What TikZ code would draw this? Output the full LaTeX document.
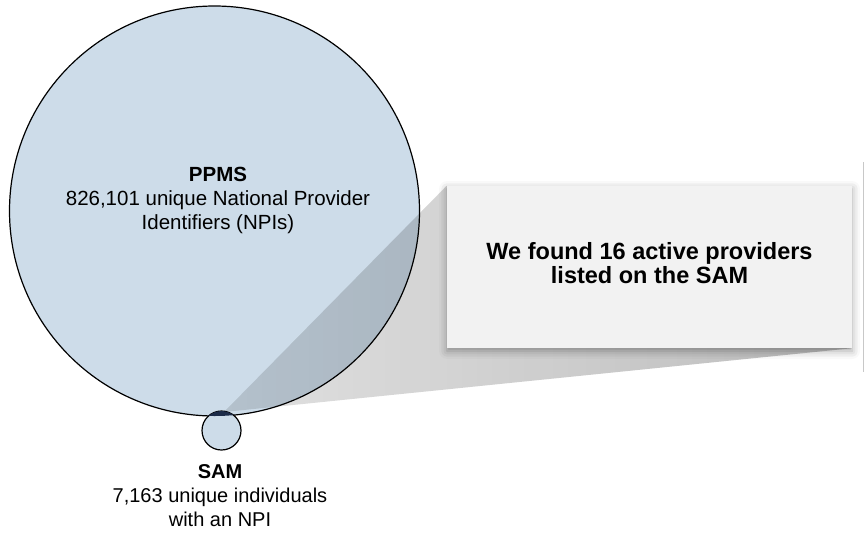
\documentclass[tikz,border=0pt]{standalone}
\usepackage{fontspec}
\setmainfont{Liberation Sans}
\usetikzlibrary{shadows.blur,fadings}
\definecolor{circblue}{RGB}{205,220,233}
\definecolor{lensblue}{RGB}{28,43,72}
\definecolor{notegray}{RGB}{242,242,242}
\definecolor{rulegray}{RGB}{200,200,200}
\tikzfading[name=wedgefade,left color=transparent!100,right color=transparent!0]
\pgfdeclarelayer{front}
\pgfsetlayers{main,front}

\begin{document}
\begin{tikzpicture}[x=1pt,y=-1pt,
  set/.style={circle,draw=black,line width=1.2pt,fill=circblue,inner sep=0pt},
  settext/.style={align=center,font=\fontsize{20.5}{24}\selectfont},
  callout/.style={fill=notegray,minimum width=405pt,minimum height=162pt,inner sep=0pt,align=center,
    font=\fontsize{23.5}{24}\selectfont\bfseries,
    blur shadow={shadow xshift=0pt,shadow yshift=-3pt,shadow blur radius=8pt,shadow opacity=35}}]
    \useasboundingbox (0,0) rectangle (866,536);

    \node[set,minimum size=410pt] (ppms) at (214.5,211) {};
    \node[set,minimum size=39pt] (sam) at (221.5,430.5) {};
    \begin{scope}
        \clip (ppms.center) circle[radius=205pt];
        \fill[lensblue] (sam.center) circle[radius=19.5pt];
    \end{scope}

    \begin{pgfonlayer}{front}
        \node[callout] (note) at (649.5,267) {We found 16 active providers\\listed on the SAM\\[-16pt]};
    \end{pgfonlayer}

    \coordinate (apex) at (224,412);
    \fill[black,fill opacity=0.12] (apex) -- (note.north west) -- (note.south east) -- cycle;
    \fill[black,fill opacity=0.16,path fading=wedgefade] (apex) -- (note.north west) -- (note.south east) -- cycle;

    \draw[rulegray,line width=1pt] (863,162) -- (863,372);

    \node[settext] (ppmslabel) at (218,200) {\textbf{PPMS}\\826,101 unique National Provider\\Identifiers (NPIs)};
    \node[settext,font=\fontsize{20}{24}\selectfont] (samlabel) at (220,496) {\textbf{SAM}\\7,163 unique individuals\\with an NPI};
\end{tikzpicture}
\end{document}
